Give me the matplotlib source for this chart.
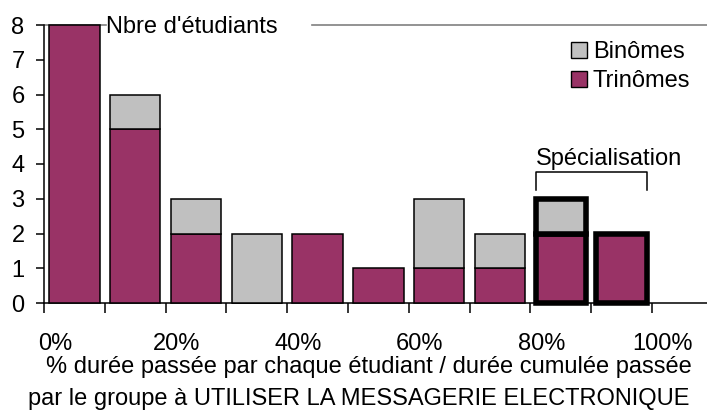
import matplotlib
matplotlib.use("Agg")
from matplotlib import pyplot as plt
from matplotlib import transforms
from matplotlib.patches import Patch
import numpy as np

plt.rcParams["font.family"] = ["Liberation Sans", "DejaVu Sans"]

# share of the group's mail time spent by each student, in 10% bins
bins = ["0%", "10%", "20%", "30%", "40%", "50%", "60%", "70%", "80%", "90%"]
trinomes = [8, 5, 2, 0, 2, 1, 1, 1, 2, 2]
binomes = [0, 1, 1, 2, 0, 0, 2, 1, 1, 0]
specialisation = ["80%", "90%"]
tick_labels = ["0%", "", "20%", "", "40%", "", "60%", "", "80%", "", "100%"]

MAROON = "#993366"
GREY = "#C0C0C0"
FONT = 17


def main():
    fig = plt.figure(figsize=(7.07, 4.12), dpi=100)
    ax = fig.add_axes([44 / 707, 109 / 412, 663 / 707, 278 / 412])

    x = np.arange(len(bins)) + 0.5
    width = 0.83
    tri = np.array(trinomes)
    bino = np.array(binomes)
    lw = np.array([4.0 if b in specialisation else 1.1 for b in bins])

    ax.bar(x, tri, width=width, color=MAROON, edgecolor="black", linewidth=lw, zorder=3, clip_on=False)
    has_bin = bino > 0
    ax.bar(x[has_bin], bino[has_bin], bottom=tri[has_bin], width=width, color=GREY,
           edgecolor="black", linewidth=lw[has_bin], zorder=3, clip_on=False)

    ax.set_xlim(0, 663 / 60.8)
    ax.set_ylim(0, 8)

    ax.set_xticks(np.arange(len(tick_labels)))
    ax.set_xticklabels(tick_labels, fontsize=FONT)
    ax.set_yticks(np.arange(0, 9))
    ax.tick_params(axis="y", labelsize=FONT, length=6, width=1.1, pad=8)
    ax.tick_params(axis="x", length=7, width=1.1, pad=14.5)
    shift = transforms.ScaledTranslation(11 / 100, 0, fig.dpi_scale_trans)
    for lbl in ax.get_xticklabels():
        lbl.set_transform(lbl.get_transform() + shift)

    for side in ["top", "right"]:
        ax.spines[side].set_visible(False)
    for side in ["left", "bottom"]:
        ax.spines[side].set_linewidth(1.1)

    # grey frame line along the top, broken by the axis title
    ax.plot([0, 0.093], [1, 1], color="#808080", lw=1.2, transform=ax.transAxes, clip_on=False, zorder=2)
    ax.plot([0.404, 1], [1, 1], color="#808080", lw=1.2, transform=ax.transAxes, clip_on=False, zorder=2)
    ax.text(0.0935, 1 - 8 / 278, "Nbre d'étudiants", transform=ax.transAxes, fontsize=FONT,
            ha="left", va="baseline")

    # bracket over the specialisation bins
    idx = [bins.index(b) for b in specialisation]
    x0 = x[idx[0]] - width / 2
    x1 = x[idx[-1]] + width / 2
    top = max(tri[idx] + bino[idx])
    ax.plot([x0, x0, x1, x1], [top + 0.25, top + 0.77, top + 0.77, top + 0.25],
            color="black", lw=1.1, clip_on=False, zorder=3)
    ax.text(x0, top + 0.97, "Spécialisation", fontsize=FONT, ha="left", va="baseline")

    legend_elements = [Patch(facecolor=GREY, edgecolor="black", label="Binômes"),
                       Patch(facecolor=MAROON, edgecolor="black", label="Trinômes")]
    fig.legend(handles=legend_elements, loc="upper left", bbox_to_anchor=(571 / 707, 1 - 41 / 412),
               frameon=False, fontsize=FONT, handlelength=0.67, handleheight=0.67,
               handletextpad=0.25, labelspacing=0.3, borderpad=0, borderaxespad=0)

    fig.text(692 / 707, 1 - 373 / 412, "% durée passée par chaque étudiant / durée cumulée passée",
             fontsize=FONT, ha="right", va="baseline")
    fig.text(690 / 707, 1 - 405 / 412, "par le groupe à UTILISER LA MESSAGERIE ELECTRONIQUE",
             fontsize=FONT, ha="right", va="baseline")

    fig.savefig("out.png", dpi=100)


if __name__ == "__main__":
    main()
